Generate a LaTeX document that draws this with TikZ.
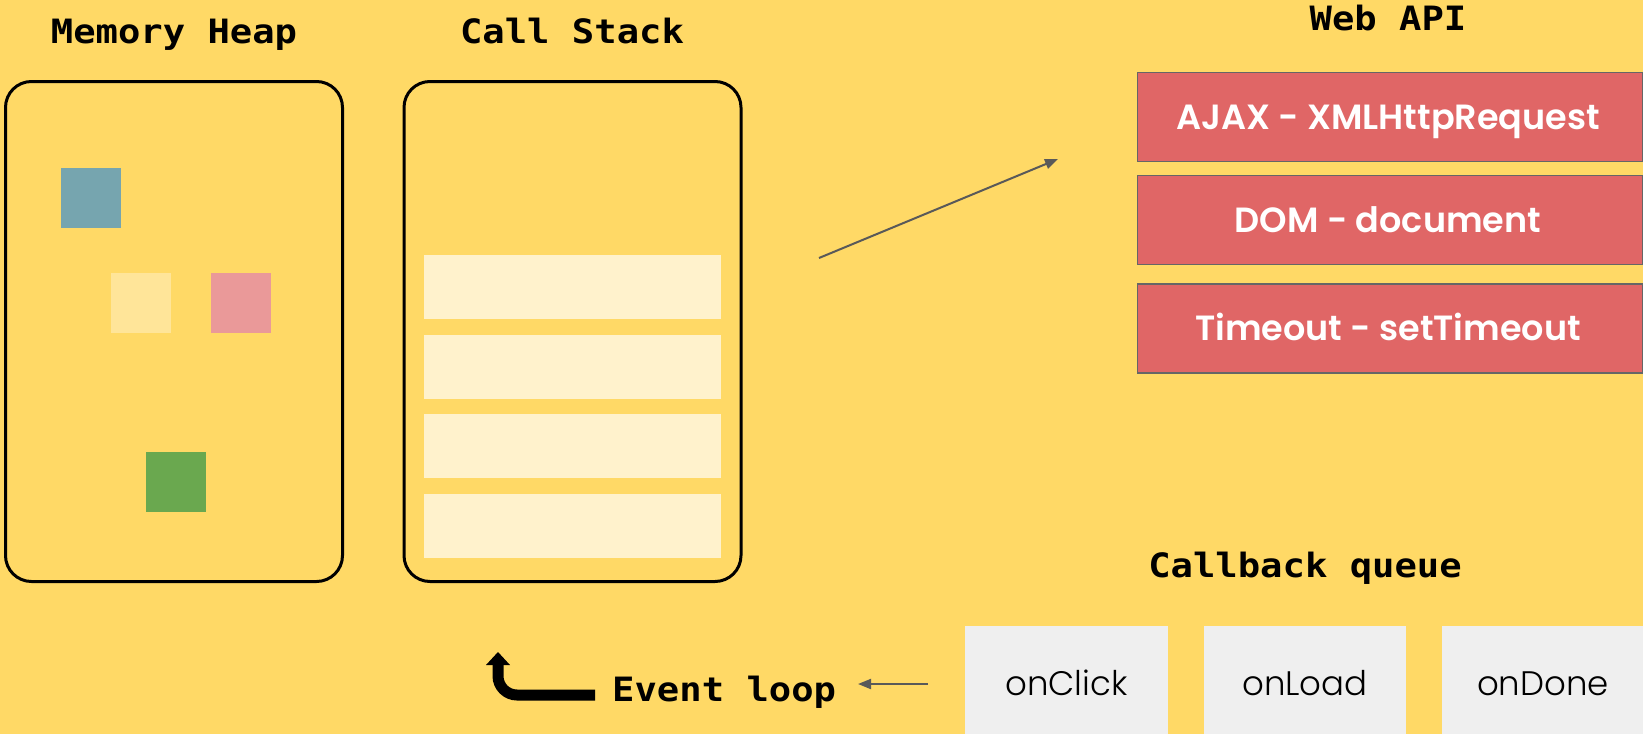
\documentclass[tikz,border=0pt]{standalone}
\usepackage{fontspec}
\usetikzlibrary{arrows.meta}

\newfontfamily\titlefont{DejaVu Sans Mono Bold}[FakeStretch=1.11]
\newfontfamily\apifont{Poppins SemiBold}
\newfontfamily\cbfont{Poppins Light}

\definecolor{bgyellow}{HTML}{FFD966}
\definecolor{heapblue}{HTML}{76A5AF}
\definecolor{heapyellow}{HTML}{FFE599}
\definecolor{heappink}{HTML}{EA9999}
\definecolor{heapgreen}{HTML}{6AA84F}
\definecolor{framecream}{HTML}{FFF2CC}
\definecolor{apired}{HTML}{E06666}
\definecolor{apiborder}{HTML}{666666}
\definecolor{cbgray}{HTML}{EFEFEF}
\definecolor{linkgray}{HTML}{595959}

\tikzset{
  title/.style={anchor=base, inner sep=0pt, font=\titlefont\fontsize{33.5}{40}\selectfont},
  panel/.style={draw=black, line width=3pt, rounded corners=26pt, minimum width=337pt, minimum height=500pt, inner sep=0pt},
  heapobj/.style={anchor=north west, minimum size=60pt, inner sep=0pt},
  stackframe/.style={anchor=north west, fill=framecream, minimum width=297pt, minimum height=64pt, inner sep=0pt},
  apibox/.style={anchor=north west, fill=apired, draw=apiborder, line width=1.5pt, minimum width=505pt, minimum height=89pt, inner sep=0pt},
  apitext/.style={anchor=base, inner sep=0pt, text=white, font=\apifont\fontsize{35}{40}\selectfont},
  cbbox/.style={anchor=north west, fill=cbgray, minimum height=108pt, inner sep=0pt},
  cbtext/.style={anchor=base, inner sep=0pt, font=\cbfont\fontsize{34}{40}\selectfont},
  link/.style={draw=linkgray, line width=2pt, -{Triangle[length=13pt,width=10pt]}},
}

\begin{document}
\begin{tikzpicture}[x=1pt, y=-1pt]
  % canvas
  \fill[bgyellow] (0,0) rectangle (1643,734);
  \useasboundingbox (0,0) rectangle (1643,734);

  % headings
  \node[title] (heapTitle) at (174,43) {Memory Heap};
  \node[title] (stackTitle) at (572,43) {Call Stack};
  \node[title] (apiTitle) at (1388,30) {Web API};
  \node[title] (queueTitle) at (1305,577) {Callback queue};

  % memory heap with its objects
  \node[panel] (heap) at (174,331.5) {};
  \node[heapobj, fill=heapblue] (objA) at (61,168) {};
  \node[heapobj, fill=heapyellow] (objB) at (111,273) {};
  \node[heapobj, fill=heappink] (objC) at (211,273) {};
  \node[heapobj, fill=heapgreen] (objD) at (146,452) {};

  % call stack with its frames
  \node[panel] (stack) at (572.5,331.5) {};
  \node[stackframe] (frameA) at (424,255) {};
  \node[stackframe] (frameB) at (424,335) {};
  \node[stackframe] (frameC) at (424,414) {};
  \node[stackframe] (frameD) at (424,494) {};

  % web APIs
  \node[apibox] (ajax) at (1136.5,71.5) {};
  \node[apibox] (dom) at (1136.5,174.5) {};
  \node[apibox] (timeout) at (1136.5,283) {};
  \node[apitext] (ajaxText) at (1388,129) {AJAX - XMLHttpRequest};
  \node[apitext] (domText) at (1388,232) {DOM - document};
  \node[apitext] (timeoutText) at (1388,340) {Timeout - setTimeout};

  % callback queue
  \node[cbbox, minimum width=203pt] (click) at (965,626) {};
  \node[cbbox, minimum width=202pt] (load) at (1204,626) {};
  \node[cbbox, minimum width=201pt] (done) at (1442,626) {};
  \node[cbtext] (clickText) at (1066.5,695) {onClick};
  \node[cbtext] (loadText) at (1305,695) {onLoad};
  \node[cbtext] (doneText) at (1543,695) {onDone};

  % event loop
  \node[title, anchor=base west] (loopText) at (612,701) {Event loop};
  \draw[line width=11pt, line cap=butt, rounded corners=19pt] (595,695) -- (498,695) -- (498,663);
  \fill (486,665) -- (510,665) -- (498,652) -- cycle;

  % connectors
  \coordinate (toApiStart) at (819,258);
  \coordinate (toApiEnd) at (1058,159);
  \draw[link] (toApiStart) -- (toApiEnd);
  \coordinate (queueOut) at (928,684);
  \coordinate (loopIn) at (858,684);
  \draw[link] (queueOut) -- (loopIn);
\end{tikzpicture}
\end{document}
